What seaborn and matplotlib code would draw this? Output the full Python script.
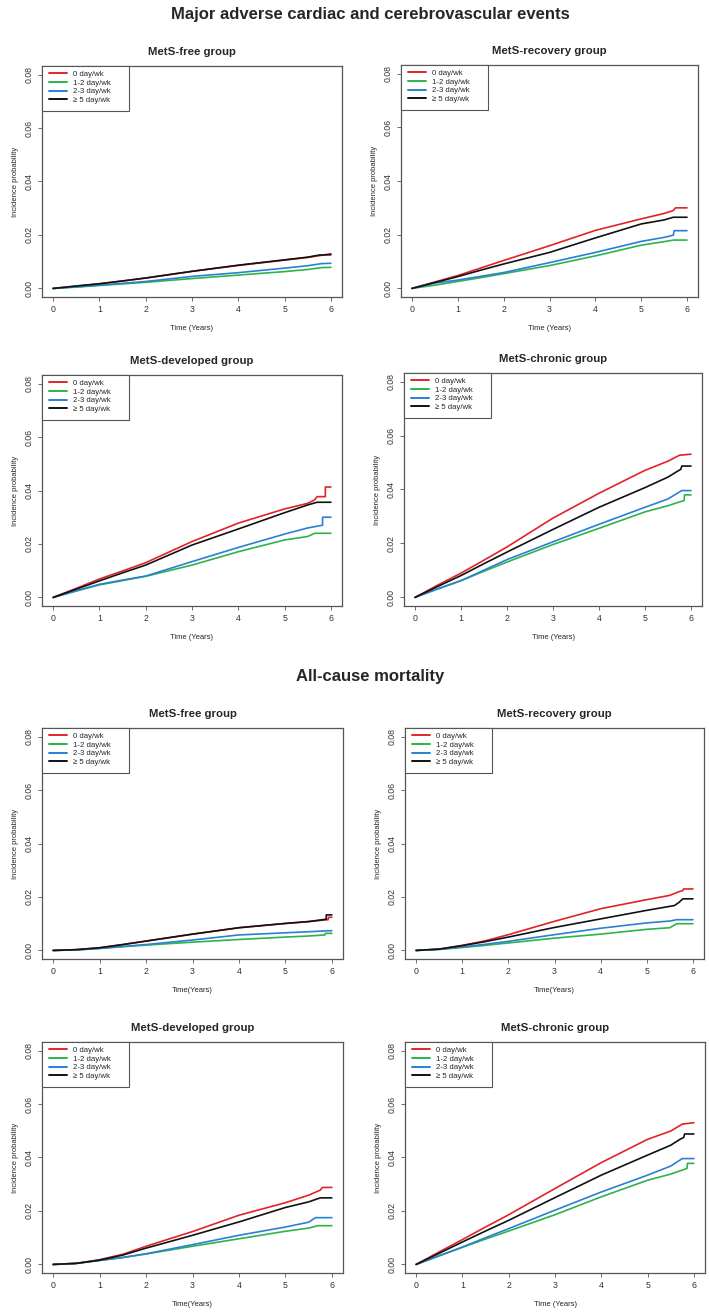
import numpy as np
import pandas as pd
import matplotlib
matplotlib.use("Agg")
import matplotlib.pyplot as plt
import seaborn as sns
from matplotlib.lines import Line2D
from matplotlib.patches import Rectangle

# ------------------------------------------------------------------
# data (cumulative incidence)
# ------------------------------------------------------------------
groups = ["0 day/wk", "1-2 day/wk", "2-3 day/wk", "\u2265 5 day/wk"]
colors = ["#e2222b", "#2db34b", "#2a80d3", "#111111"]
years = [0, 0.5, 1, 1.5, 2, 3, 4, 5, 5.5]

# MACCE - MetS-free group (order: 0, 1-2, 2-3, >=5 day/wk)
macce_free = [
    [0, 0.0009, 0.00175, 0.0028, 0.0039, 0.0064, 0.0086, 0.0106, 0.0116],
    [0, 0.0005, 0.0011, 0.0017, 0.0023, 0.0037, 0.0050, 0.0063, 0.0071],
    [0, 0.0006, 0.00125, 0.0019, 0.0026, 0.0045, 0.0059, 0.0076, 0.0085],
    [0, 0.0009, 0.00175, 0.0028, 0.0039, 0.0064, 0.0087, 0.0107, 0.0117],
]
macce_free_tail = [
    [(5.8, 0.0124), (6, 0.0130)],
    [(5.8, 0.0078), (6, 0.0079)],
    [(5.8, 0.0093), (6, 0.0094)],
    [(5.75, 0.0125), (6, 0.0126)],
]

# MACCE - MetS-recovery group
macce_recovery = [
    [0, 0.0024, 0.0048, 0.0076, 0.0104, 0.0159, 0.0216, 0.0259, 0.0279],
    [0, 0.0012, 0.0026, 0.0040, 0.0055, 0.0085, 0.0121, 0.0161, 0.0174],
    [0, 0.0020, 0.0031, 0.0045, 0.0059, 0.0096, 0.0134, 0.0175, 0.0190],
    [0, 0.0022, 0.0044, 0.0068, 0.0091, 0.0134, 0.0188, 0.0240, 0.0255],
]
macce_recovery_tail = [
    [(5.7, 0.0290), (5.75, 0.0300), (6, 0.0300)],
    [(5.7, 0.0180), (6, 0.0180)],
    [(5.7, 0.0198), (5.72, 0.0215), (6, 0.0215)],
    [(5.7, 0.0265), (6, 0.0265)],
]

# MACCE - MetS-developed group
macce_developed = [
    [0, 0.0034, 0.0069, 0.0099, 0.0130, 0.0209, 0.0278, 0.0331, 0.0352],
    [0, 0.0024, 0.0047, 0.0063, 0.0079, 0.0121, 0.0171, 0.0215, 0.0228],
    [0, 0.0025, 0.0049, 0.0065, 0.0080, 0.0134, 0.0187, 0.0237, 0.0260],
    [0, 0.0031, 0.0062, 0.0092, 0.0121, 0.0196, 0.0256, 0.0317, 0.0346],
]
macce_developed_tail = [
    [(5.65, 0.0365), (5.7, 0.0377), (5.88, 0.0377), (5.88, 0.0413), (6, 0.0413)],
    [(5.65, 0.0240), (6, 0.0240)],
    [(5.82, 0.0270), (5.82, 0.0300), (6, 0.0300)],
    [(5.7, 0.0356), (6, 0.0356)],
]

# MACCE - MetS-chronic group
macce_chronic = [
    [0, 0.0046, 0.0090, 0.0138, 0.0187, 0.0294, 0.0386, 0.0471, 0.0505],
    [0, 0.0032, 0.0062, 0.0097, 0.0131, 0.0196, 0.0256, 0.0317, 0.0340],
    [0, 0.0032, 0.0062, 0.0101, 0.0140, 0.0206, 0.0271, 0.0334, 0.0365],
    [0, 0.0041, 0.0081, 0.0125, 0.0168, 0.0252, 0.0334, 0.0407, 0.0446],
]
macce_chronic_tail = [
    [(5.75, 0.0527), (6, 0.0531)],
    [(5.85, 0.0359), (5.86, 0.0380), (6, 0.0380)],
    [(5.8, 0.0396), (6, 0.0396)],
    [(5.7, 0.0467), (5.78, 0.0475), (5.8, 0.0487), (6, 0.0487)],
]

# All-cause mortality - MetS-free group
acm_free = [
    [0, 0.0003, 0.0010, 0.0022, 0.0035, 0.0061, 0.0085, 0.0101, 0.0108],
    [0, 0.0002, 0.00075, 0.0014, 0.0020, 0.0031, 0.0041, 0.0050, 0.0054],
    [0, 0.0002, 0.00075, 0.0015, 0.0022, 0.0039, 0.0058, 0.0066, 0.0070],
    [0, 0.0003, 0.0010, 0.0022, 0.0035, 0.0061, 0.0085, 0.0101, 0.0108],
]
acm_free_tail = [
    [(5.92, 0.0115), (5.93, 0.0124), (6, 0.0124)],
    [(5.85, 0.0058), (5.86, 0.0064), (6, 0.0064)],
    [(5.85, 0.0073), (6, 0.0074)],
    [(5.88, 0.0117), (5.88, 0.0133), (6, 0.0133)],
]

# All-cause mortality - MetS-recovery group
acm_recovery = [
    [0, 0.0005, 0.0019, 0.0036, 0.0059, 0.0109, 0.0156, 0.0190, 0.0206],
    [0, 0.0004, 0.0011, 0.0019, 0.0028, 0.0046, 0.0061, 0.0079, 0.0085],
    [0, 0.0004, 0.0013, 0.0023, 0.0034, 0.0059, 0.0083, 0.0103, 0.0110],
    [0, 0.0005, 0.0018, 0.0033, 0.0050, 0.0086, 0.0118, 0.0150, 0.0165],
]
acm_recovery_tail = [
    [(5.7, 0.0220), (5.78, 0.0224), (5.8, 0.0230), (6, 0.0230)],
    [(5.65, 0.0100), (6, 0.0100)],
    [(5.65, 0.0115), (6, 0.0115)],
    [(5.6, 0.0168), (5.7, 0.0180), (5.78, 0.0193), (6, 0.0193)],
]

# All-cause mortality - MetS-developed group
acm_developed = [
    [0, 0.0004, 0.0018, 0.0038, 0.0068, 0.0123, 0.0184, 0.0231, 0.0259],
    [0, 0.0004, 0.0015, 0.0026, 0.0039, 0.0068, 0.0096, 0.0124, 0.0136],
    [0, 0.0004, 0.0015, 0.0026, 0.0040, 0.0074, 0.0109, 0.0140, 0.0158],
    [0, 0.0004, 0.0016, 0.0035, 0.0061, 0.0109, 0.0159, 0.0213, 0.0234],
]
acm_developed_tail = [
    [(5.75, 0.0278), (5.8, 0.0288), (6, 0.0288)],
    [(5.7, 0.0145), (6, 0.0145)],
    [(5.65, 0.0175), (6, 0.0175)],
    [(5.75, 0.0249), (6, 0.0249)],
]

# All-cause mortality - MetS-chronic group
acm_chronic = [
    [0, 0.0047, 0.0093, 0.0140, 0.0186, 0.0284, 0.0381, 0.0468, 0.0499],
    [0, 0.0032, 0.0064, 0.0095, 0.0125, 0.0186, 0.0253, 0.0315, 0.0338],
    [0, 0.0033, 0.0065, 0.0100, 0.0134, 0.0203, 0.0271, 0.0334, 0.0368],
    [0, 0.0042, 0.0084, 0.0125, 0.0165, 0.0250, 0.0334, 0.0409, 0.0446],
]
acm_chronic_tail = [
    [(5.75, 0.0525), (6, 0.0530)],
    [(5.85, 0.0359), (5.86, 0.0378), (6, 0.0378)],
    [(5.75, 0.0396), (6, 0.0396)],
    [(5.7, 0.0468), (5.78, 0.0475), (5.8, 0.0488), (6, 0.0488)],
]

y_ticks = [0.00, 0.02, 0.04, 0.06, 0.08]
x_ticks = [0, 1, 2, 3, 4, 5, 6]

# ------------------------------------------------------------------
# style
# ------------------------------------------------------------------
sns.set_theme(style="ticks")
plt.rcParams['font.family'] = ['Liberation Sans', 'DejaVu Sans']
plt.rcParams['axes.edgecolor'] = '#555555'
plt.rcParams['xtick.color'] = '#555555'
plt.rcParams['ytick.color'] = '#555555'
plt.rcParams['xtick.labelcolor'] = '#333333'
plt.rcParams['ytick.labelcolor'] = '#333333'

W, H = 709, 1312
fig = plt.figure(figsize=(W / 100, H / 100), dpi=100)


def rect(l, t, r, b):
    return [l / W, 1 - b / H, (r - l) / W, (b - t) / H]


def long_table(values, tails):
    rows = []
    for g, vals, tail in zip(groups, values, tails):
        for t, v in zip(years, vals):
            rows.append((t, v, g))
        for t, v in tail:
            rows.append((t, v, g))
    return pd.DataFrame(rows, columns=["year", "prob", "group"])


panels = [
    ("MetS-free group", "Time (Years)", macce_free, macce_free_tail, (42, 66, 342, 297)),
    ("MetS-recovery group", "Time (Years)", macce_recovery, macce_recovery_tail, (401, 65, 698, 297)),
    ("MetS-developed group", "Time (Years)", macce_developed, macce_developed_tail, (42, 375, 342, 606)),
    ("MetS-chronic group", "Time (Years)", macce_chronic, macce_chronic_tail, (404, 373, 702, 606)),
    ("MetS-free group", "Time(Years)", acm_free, acm_free_tail, (42, 728, 343, 959)),
    ("MetS-recovery group", "Time(Years)", acm_recovery, acm_recovery_tail, (405, 728, 704, 959)),
    ("MetS-developed group", "Time(Years)", acm_developed, acm_developed_tail, (42, 1042, 343, 1273)),
    ("MetS-chronic group", "Time (Years)", acm_chronic, acm_chronic_tail, (405, 1042, 705, 1273)),
]

for title, xlab, vals, tails, box in panels:
    ax = fig.add_axes(rect(*box))
    aw = box[2] - box[0]
    ah = box[3] - box[1]
    df = long_table(vals, tails)
    sns.lineplot(data=df, x="year", y="prob", hue="group", hue_order=groups,
                 palette=colors, estimator=None, sort=False, legend=False,
                 linewidth=1.2, ax=ax)
    ax.set_xlim(-0.24, 6.24)
    ax.set_ylim(-0.0032, 0.0832)
    ax.set_xticks(x_ticks)
    ax.set_yticks(y_ticks)
    ax.set_yticklabels([f"{v:.2f}" for v in y_ticks], rotation=90, va="center")
    ax.tick_params(axis="both", labelsize=6.3, length=3, width=0.6, pad=3)
    for s in ax.spines.values():
        s.set_linewidth(0.9)
    ax.set_title(title, fontsize=8.2, fontweight="bold", pad=8)
    ax.set_xlabel(xlab, fontsize=5.5, labelpad=8)
    ax.set_ylabel("Incidence probability", fontsize=5.5, labelpad=4)

    # legend box in the style of base R
    ax.add_patch(Rectangle((0, 1 - 45 / ah), 87 / aw, 45 / ah, transform=ax.transAxes,
                           facecolor="white", edgecolor="#555555", linewidth=0.8,
                           clip_on=False, zorder=4))
    handles = [Line2D([0], [0], color=c, lw=1.4) for c in colors]
    leg = ax.legend(handles, groups, loc="upper left",
                    bbox_to_anchor=(7 / aw, 1 - 4.5 / ah), borderaxespad=0,
                    fontsize=5.6, frameon=False, handlelength=2.3,
                    handletextpad=0.8, labelspacing=0.16, borderpad=0)
    leg.set_zorder(5)

fig.text(370 / W, 1 - 14 / H, "Major adverse cardiac and cerebrovascular events",
         ha="center", va="center", fontsize=12, fontweight="bold")
fig.text(370 / W, 1 - 677 / H, "All-cause mortality",
         ha="center", va="center", fontsize=12, fontweight="bold")

fig.savefig("out.png", dpi=100, facecolor="white")
